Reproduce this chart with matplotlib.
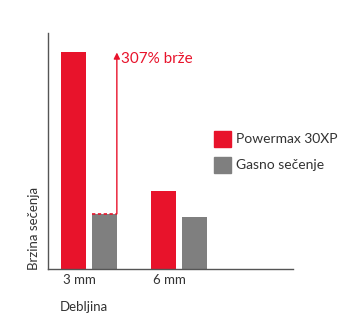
import numpy as np
import matplotlib.pyplot as plt
from matplotlib.patches import Rectangle

categories = ['3 mm', '6 mm']
powermax = [100, 36]
gasno = [25.5, 24]
series_names = ['Powermax 30XP', 'Gasno sečenje']
annotation = '307% brže'

plt.rcParams['font.family'] = ['Lato', 'DejaVu Sans']

red = '#E8132B'
gray = '#7F7F7F'
text_col = '#333333'

fig = plt.figure(figsize=(3.59, 3.17), dpi=100)
ax = fig.add_axes([0.1337, 0.1514, 0.6825, 0.7445])

x = np.arange(len(categories))
w = 0.28
off = 0.17
ax.bar(x - off, powermax, w, color=red)
ax.bar(x + off, gasno, w, color=gray)

ax.set_xlim(-0.456, 2.27)
ax.set_ylim(0, 109)

# arrow showing the speed difference
ax_x = x[0] + off + w / 2
ax.annotate('', xy=(ax_x, powermax[0]), xytext=(ax_x, gasno[0]),
            arrowprops=dict(arrowstyle='-|>', color=red, lw=1.0,
                            mutation_scale=9, shrinkA=0, shrinkB=0))
ax.plot([x[0] + off - w / 2, ax_x], [gasno[0], gasno[0]], color=red,
        lw=1.2, ls=(0, (2, 1.5)))
ax.text(ax_x + 0.05, powermax[0] - 3, annotation, color=red, fontsize=11,
        va='center', ha='left')

for s in ['top', 'right']:
    ax.spines[s].set_visible(False)
for s in ['left', 'bottom']:
    ax.spines[s].set_color('#555555')
    ax.spines[s].set_linewidth(1.0)
ax.set_yticks([])
ax.set_xticks([])
for i, c in enumerate(categories):
    ax.text(x[i] - off - w / 2 + 0.02, -2.5, c, ha='left', va='top',
            fontsize=9.5, color=text_col)

fig.text(0.167, 0.02, 'Debljina', fontsize=9.5, color=text_col)
fig.text(0.078, 0.148, 'Brzina sečenja', rotation=90, fontsize=9.5,
         color=text_col, va='bottom', ha='left')

# legend
for i, (name, col) in enumerate(zip(series_names, [red, gray])):
    y0 = 1 - (147 + 26 * i) / 317
    fig.patches.append(Rectangle((214 / 359, y0), 17 / 359, 16 / 317,
                                 transform=fig.transFigure, color=col))
    fig.text(236 / 359, y0 + 8 / 317, name, fontsize=10, color=text_col,
             va='center')

fig.savefig('out.png', dpi=100)
